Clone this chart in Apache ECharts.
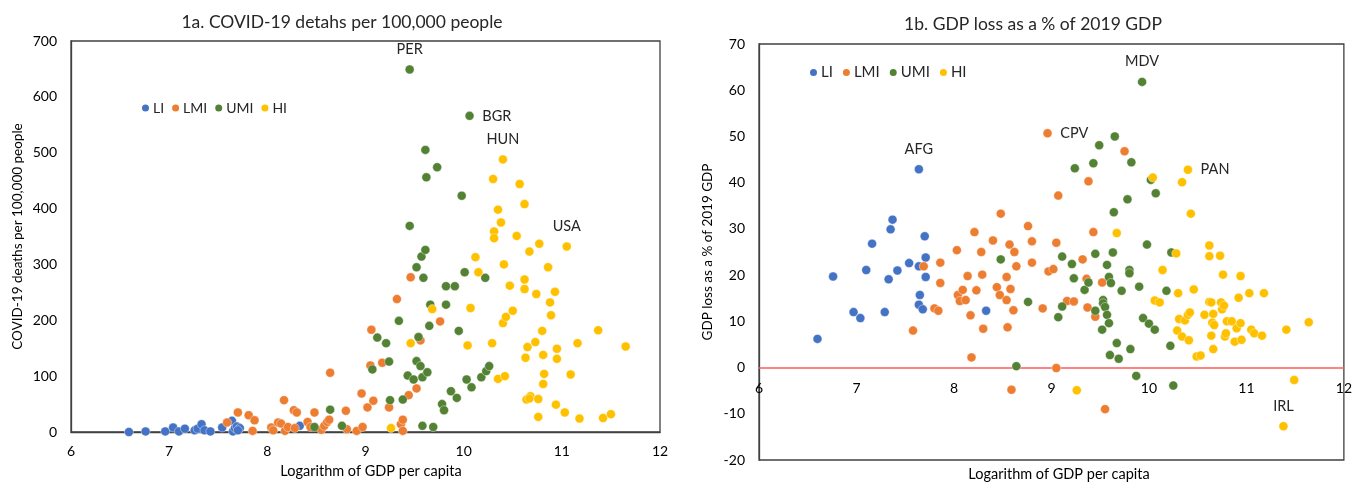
<!DOCTYPE html>
<html>
<head>
<meta charset="utf-8">
<script src="https://cdn.jsdelivr.net/npm/echarts@6/dist/echarts.min.js"></script>
<style>
  html, body { margin: 0; background: #fff; }
  #chart { width: 1355px; height: 483px; }
</style>
</head>
<body>
<div id="chart"></div>
<script>
var groups = ['LI', 'LMI', 'UMI', 'HI'];
var colors = ['#4472C4', '#ED7D31', '#548235', '#FFC000'];

// axis ranges [min, max, interval]
var xRange = [6, 12, 1];
var deathsRange = [0, 700, 100];
var lossRange = [-20, 70, 10];

// 1a: [log GDP per capita, deaths per 100,000, tag]
var deathsLI = [[6.59,0],[6.76,1],[6.96,1],[7.04,8],[7.1,1],[7.16,6],[7.26,3],[7.29,6],[7.33,14],[7.36,3],
  [7.42,1],[7.54,8],[7.64,20],[7.65,1],[7.67,7],[7.69,10],[7.72,7],[7.7,3],[8.33,11]];
var deathsLMI = [[7.59,17],[7.7,35],[7.81,30],[7.87,21],[7.85,2],[8.04,8],[8.06,3],[8.11,17],[8.14,15],[8.17,57],
  [8.18,2],[8.21,9],[8.27,39],[8.3,35],[8.28,7],[8.41,18],[8.44,9],[8.48,35],[8.55,4],[8.58,11],
  [8.61,18],[8.63,22],[8.64,106],[8.8,38],[8.81,5],[8.91,2],[8.96,69],[8.97,9],[9.02,44],[9.05,119],
  [9.06,183],[9.08,56],[9.17,124],[9.24,44],[9.32,238],[9.36,14],[9.38,22],[9.38,2],[9.44,66],[9.46,277],
  [9.52,78],[9.56,164],[9.76,198]];
var deathsUMI = [[8.48,9],[8.64,40],[8.76,11],[9.07,112],[9.12,169],[9.21,159],[9.24,126],[9.25,57],[9.34,199],[9.38,58],
  [9.43,101],[9.45,369],[9.45,649,'PER'],[9.49,94],[9.52,295],[9.52,127],[9.54,170],[9.56,118],[9.57,314],[9.58,98],
  [9.58,11],[9.59,276],[9.61,326],[9.61,505],[9.62,456],[9.63,107],[9.65,190],[9.66,228],[9.69,9],[9.73,474],
  [9.78,50],[9.8,39],[9.87,73],[9.82,228],[9.82,261],[9.91,261],[9.93,61],[9.95,181],[9.98,423],[10.01,286],
  [10.03,94],[10.06,566,'BGR'],[10.08,80],[10.18,98],[10.22,276],[10.23,109],[10.26,118]];
var deathsHI = [[9.26,7],[9.46,159],[9.68,220],[10.04,155],[10.07,222],[10.12,313],[10.15,286],[10.29,159],[10.3,453],[10.31,359],
  [10.31,347],[10.35,95],[10.35,398],[10.38,375],[10.4,488,'HUN'],[10.4,195],[10.41,300],[10.42,100],[10.43,206],[10.47,262],
  [10.5,217],[10.54,351],[10.57,444],[10.62,408],[10.62,256],[10.62,273],[10.63,133],[10.64,58],[10.65,152],[10.67,323],
  [10.68,64],[10.67,60],[10.73,161],[10.74,247],[10.77,337],[10.76,59],[10.76,27],[10.8,181],[10.81,86],[10.81,138],
  [10.82,104],[10.86,295],[10.88,232],[10.89,209],[10.93,251],[10.94,49],[10.95,149],[10.95,131],[11.03,35],[11.05,332,'USA'],
  [11.09,103],[11.16,159],[11.18,24],[11.37,182],[11.42,25],[11.5,32],[11.65,153]];

// 1b: [log GDP per capita, GDP loss % of 2019 GDP, tag]
var lossLI = [[6.6,6.2],[6.76,19.7],[6.97,12],[7.04,10.7],[7.1,21.1],[7.16,26.8],[7.29,12],[7.33,19.1],[7.35,29.9],[7.37,32],
  [7.42,21],[7.54,22.6],[7.64,42.9,'AFG'],[7.64,21.9],[7.65,15.7],[7.64,13.6],[7.68,12.6],[7.7,28.4],[7.71,23.8],[7.71,19.6],
  [8.33,12.3]];
var lossLMI = [[7.58,8],[7.69,21.9],[7.8,12.8],[7.84,12.3],[7.86,18.3],[7.86,22.7],[8.03,25.4],[8.04,15.7],[8.06,14.4],[8.09,16.8],
  [8.12,14.6],[8.14,19.8],[8.17,11.3],[8.18,2.2],[8.21,29.3],[8.23,16.7],[8.28,25],[8.29,20.1],[8.3,8.4],[8.4,27.5],
  [8.44,17.4],[8.47,15.7],[8.48,33.3],[8.54,14.6],[8.54,19.6],[8.55,8.7],[8.57,26.6],[8.58,17],[8.59,-4.8],[8.61,12.4],
  [8.62,25],[8.64,21.9],[8.76,30.6],[8.8,22.7],[8.8,27.3],[8.91,12.8],[8.96,50.7,'CPV'],[8.97,20.8],[9.02,21.3],[9.05,-0.1],
  [9.05,27],[9.07,37.2],[9.16,14.4],[9.23,14.3],[9.32,23.4],[9.36,19.2],[9.37,13],[9.38,40.3],[9.43,29.3],[9.45,11],
  [9.52,18.4],[9.55,-9],[9.75,46.8]];
var lossUMI = [[8.48,23.4],[8.64,0.3],[8.76,14.2],[9.07,10.9],[9.11,24],[9.11,13.2],[9.21,22.4],[9.23,19.3],[9.24,43.1],[9.34,16.8],
  [9.38,18.4],[9.43,44.2],[9.45,24.6],[9.45,12.3],[9.49,48.1],[9.52,8.2],[9.53,14.6],[9.53,13.9],[9.55,13.1],[9.57,22.2],
  [9.57,11.4],[9.59,9.6],[9.59,19.6],[9.6,2.7],[9.61,18.3],[9.63,24.9],[9.64,33.6],[9.65,50],[9.67,5.3],[9.69,1.9],
  [9.72,16.6],[9.78,36.4],[9.8,21.1],[9.8,20.4],[9.81,4],[9.82,44.4],[9.87,-1.8],[9.9,17.5],[9.93,61.8,'MDV'],[9.94,10.7],
  [9.98,26.6],[10,9.5],[10.02,40.6],[10.06,8.2],[10.07,37.7],[10.18,16.6],[10.22,4.7],[10.23,24.9],[10.25,-3.9]];
var lossHI = [[9.26,-4.9],[9.67,29.1],[10.04,41.1],[10.06,14.5],[10.11,14.1],[10.14,21.1],[10.28,24.7],[10.29,8],[10.3,16.1],[10.31,10.5],
  [10.34,6.7],[10.34,40.1],[10.37,10.2],[10.4,42.8,'PAN'],[10.4,11.4],[10.41,5.9],[10.42,11.9],[10.43,33.3],[10.46,16.9],[10.49,2.4],
  [10.53,2.6],[10.57,11.4],[10.62,26.4],[10.62,24.1],[10.62,14.2],[10.64,6.9],[10.64,14.1],[10.65,9.7],[10.66,11.6],[10.67,9.2],
  [10.66,4],[10.73,24.2],[10.74,14.1],[10.75,12.6],[10.76,20.1],[10.77,13.4],[10.78,6.7],[10.79,7.4],[10.8,10],[10.85,10],
  [10.88,5.6],[10.9,8.5],[10.92,15.1],[10.94,19.8],[10.94,9.6],[10.95,6],[11.03,16.1],[11.05,8.2],[11.08,7.4],[11.16,6.9],
  [11.18,16.1],[11.38,-12.7,'IRL'],[11.41,8.2],[11.49,-2.7],[11.64,9.8]];

var deaths = [deathsLI, deathsLMI, deathsUMI, deathsHI];
var losses = [lossLI, lossLMI, lossUMI, lossHI];
var tagPos = {PER:'top', BGR:'right', HUN:'top', USA:'top', AFG:'top', CPV:'right', MDV:'top', PAN:'right', IRL:'top'};

var font = 'Lato, "Open Sans", sans-serif';
var ink = '#262626';

// right panel geometry: the x axis sits on the zero line
var gridB = { left: 759, top: 44, width: 590, height: 416 };
var zeroOffset = -gridB.height * (0 - lossRange[0]) / (lossRange[1] - lossRange[0]);

function toData(list) {
  return list.map(function (p) {
    if (!p[2]) return [p[0], p[1]];
    return {
      value: [p[0], p[1]],
      label: { show: true, formatter: p[2], position: tagPos[p[2]], distance: 8,
               color: ink, fontFamily: font, fontSize: 14.5 }
    };
  });
}

var series = [];
groups.forEach(function (g, i) {
  [deaths, losses].forEach(function (set, k) {
    series.push({
      name: g,
      type: 'scatter',
      xAxisIndex: k,
      yAxisIndex: k,
      symbolSize: 9,
      itemStyle: { color: colors[i], opacity: 1, borderColor: '#fff', borderWidth: 0.4 },
      emphasis: { disabled: true },
      data: toData(set[i])
    });
  });
});

function xAxisFor(k) {
  return {
    type: 'value', gridIndex: k,
    min: xRange[0], max: xRange[1], interval: xRange[2],
    offset: k === 0 ? 0 : zeroOffset,
    splitLine: { show: false },
    axisTick: { show: false },
    axisLine: k === 0 ? { show: true, onZero: false, lineStyle: { color: '#404040', width: 1.3 } }
                      : { show: true, onZero: false, lineStyle: { color: '#FF5B5B', width: 1.5 } },
    axisLabel: { color: '#000', fontFamily: font, fontSize: 14, margin: k === 0 ? 12 : 14 }
  };
}

function yAxisFor(k, range, name, gap) {
  return {
    type: 'value', gridIndex: k,
    min: range[0], max: range[1], interval: range[2],
    name: name, nameLocation: 'middle', nameGap: gap, nameRotate: 90,
    nameTextStyle: { color: '#000', fontFamily: font, fontSize: 13.5 },
    splitLine: { show: false },
    axisTick: { show: false },
    axisLine: { show: true, lineStyle: { color: '#404040', width: 1.3 } },
    axisLabel: { color: '#000', fontFamily: font, fontSize: 14, margin: 14 }
  };
}

var chart = echarts.init(document.getElementById('chart'));
chart.setOption({
  backgroundColor: '#fff',
  animation: false,
  title: [
    { text: '1a. COVID-19 detahs per 100,000 people', left: 337, top: 8, textAlign: 'center',
      textStyle: { fontFamily: font, fontSize: 17.5, fontWeight: 'normal', color: ink } },
    { text: '1b. GDP loss as a % of 2019 GDP', left: 1028, top: 10, textAlign: 'center',
      textStyle: { fontFamily: font, fontSize: 17.5, fontWeight: 'normal', color: ink } },
    { text: 'Logarithm of GDP per capita', left: 366, top: 459, textAlign: 'center',
      textStyle: { fontFamily: font, fontSize: 14.5, fontWeight: 'normal', color: '#000' } },
    { text: 'Logarithm of GDP per capita', left: 1054, top: 462, textAlign: 'center',
      textStyle: { fontFamily: font, fontSize: 14.5, fontWeight: 'normal', color: '#000' } }
  ],
  legend: [
    { data: groups, left: 135, top: 96, icon: 'circle', itemWidth: 9, itemHeight: 9, itemGap: 6,
      selectedMode: false, textStyle: { fontFamily: font, fontSize: 14, color: ink, padding: [0, 0, 0, -2] } },
    { data: groups, left: 803, top: 60, icon: 'circle', itemWidth: 9, itemHeight: 9, itemGap: 8,
      selectedMode: false, textStyle: { fontFamily: font, fontSize: 15, color: ink, padding: [0, 0, 0, -2] } }
  ],
  grid: [
    { left: 71, top: 41, width: 589, height: 391, show: true, borderColor: '#404040', borderWidth: 1.3 },
    { left: gridB.left, top: gridB.top, width: gridB.width, height: gridB.height,
      show: true, borderColor: '#404040', borderWidth: 1.3 }
  ],
  xAxis: [xAxisFor(0), xAxisFor(1)],
  yAxis: [
    yAxisFor(0, deathsRange, 'COVID-19 deaths per 100,000 people', 46),
    yAxisFor(1, lossRange, 'GDP loss as a % of 2019 GDP', 44)
  ],
  series: series
});
</script>
</body>
</html>
